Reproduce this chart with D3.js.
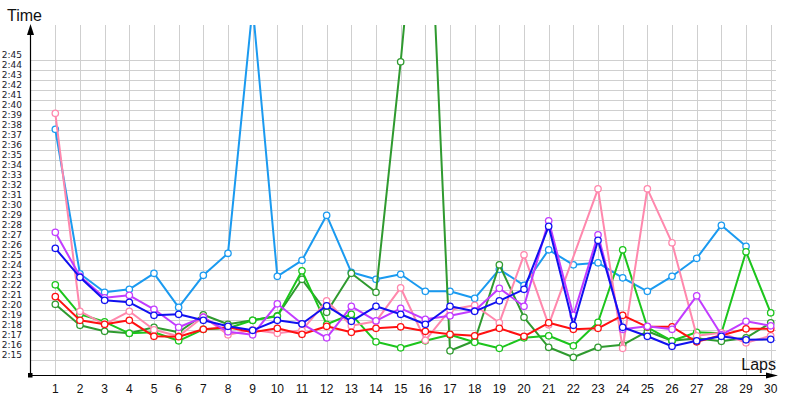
<!DOCTYPE html>
<html>
<head>
<meta charset="utf-8">
<script src="https://cdn.jsdelivr.net/npm/d3@7"></script>
<style>
  html, body { margin: 0; padding: 0; background: #fff; }
  svg { display: block; }
</style>
</head>
<body>
<svg id="chart" width="800" height="400"></svg>
<script>
// ---- data (lap times in seconds; 150 = 2:30) ----
const laps = d3.range(1, 31);
const yTickLabels = ["2:15","2:16","2:17","2:18","2:19","2:20","2:21","2:22","2:23","2:24","2:25","2:26","2:27","2:28","2:29","2:30","2:31","2:32","2:33","2:34","2:35","2:36","2:37","2:38","2:39","2:40","2:41","2:42","2:43","2:44","2:45"];

const lightBlue = [158.1,143.65,141.8,142.1,143.7,140.3,143.5,145.7,170.4,143.4,145.0,149.5,143.8,143.1,143.6,141.9,141.9,141.2,144.1,142.5,146.05,144.55,144.75,143.25,141.9,143.4,145.2,148.5,146.4,null];
const darkGreen = [140.6,138.5,137.9,137.7,138.3,137.8,139.55,138.6,139.0,139.45,143.1,139.8,143.7,141.8,164.85,191.0,135.95,136.95,144.55,139.3,136.3,135.3,136.3,136.55,137.9,136.95,137.2,136.9,137.25,138.75];
const brightGreen = [142.55,139.6,138.85,137.7,137.8,136.95,138.1,138.2,139.0,139.4,143.95,138.6,139.6,136.85,136.25,136.95,137.55,136.8,136.2,137.25,137.45,136.45,138.8,146.05,138.3,136.95,137.8,137.7,145.85,139.75];
const pink = [159.7,139.9,138.6,139.9,138.05,137.4,139.35,137.55,138.05,137.7,138.0,140.95,138.45,138.9,142.25,137.0,140.05,140.5,138.75,145.55,138.55,null,152.15,136.2,152.15,146.75,137.45,137.75,136.75,137.45];
const red = [141.37,139.0,138.6,139.0,137.4,137.36,138.1,138.3,137.8,138.2,137.6,138.4,137.8,138.2,138.35,137.9,137.6,137.45,138.2,137.4,138.75,138.1,138.2,139.5,138.35,138.35,136.85,137.5,138.15,138.15];
const purple = [147.8,143.4,141.25,141.5,140.1,138.3,139.3,137.85,137.55,140.65,138.65,137.25,140.4,138.95,140.2,139.1,139.45,139.95,142.2,140.4,148.95,139.5,147.55,138.1,138.4,138.1,141.45,137.55,138.9,138.45];
const blue = [146.2,143.3,141.0,140.8,139.5,139.6,139.0,138.4,138.0,139.0,138.65,140.45,138.9,140.4,139.6,138.6,140.4,139.9,140.95,142.1,148.4,138.5,147.0,138.3,137.4,136.4,136.95,137.4,137.05,137.1];

const seriesList = [
  { name: "lightBlue",   color: "#1a9af0", values: lightBlue },
  { name: "darkGreen",   color: "#2f9a2f", values: darkGreen },
  { name: "brightGreen", color: "#1cc51c", values: brightGreen },
  { name: "pink",        color: "#ff88ad", values: pink },
  { name: "red",         color: "#ff1010", values: red },
  { name: "purple",      color: "#c23cff", values: purple },
  { name: "blue",        color: "#1010f0", values: blue }
];

// ---- layout ----
const svg = d3.select("#chart");
const plotTop = 25, plotBottom = 375, axisX = 30, axisRight = 778, gridRight = 776;

const x = d3.scaleLinear().domain([1, 30]).range([55.3, 770.7]);
const y = d3.scaleLinear().domain([135, 165]).range([360.3, 60.3]);

const fontMain = "'Liberation Sans', Arial, sans-serif";

// clip
svg.append("defs").append("clipPath").attr("id", "plotClip")
  .append("rect").attr("x", axisX).attr("y", plotTop).attr("width", 800 - axisX).attr("height", plotBottom - plotTop);

// gridlines
const grid = svg.append("g").attr("stroke", "#cfcfcf").attr("stroke-width", 1).attr("shape-rendering", "crispEdges");
grid.selectAll("line.h").data(d3.range(135, 166)).join("line")
  .attr("class", "h")
  .attr("x1", axisX).attr("x2", gridRight)
  .attr("y1", d => Math.round(y(d)) + 0.5).attr("y2", d => Math.round(y(d)) + 0.5);
grid.selectAll("line.v").data(laps).join("line")
  .attr("class", "v")
  .attr("y1", plotTop).attr("y2", plotBottom)
  .attr("x1", d => Math.round(x(d)) + 0.5).attr("x2", d => Math.round(x(d)) + 0.5);

// y tick labels
svg.append("g").selectAll("text").data(yTickLabels).join("text")
  .attr("x", 22).attr("y", (d, i) => y(135 + i) - 2)
  .attr("text-anchor", "end")
  .attr("font-family", "'DejaVu Sans', Verdana, sans-serif")
  .attr("font-size", 9)
  .attr("fill", "#1a1a2a")
  .text(d => d);

// x tick labels
svg.append("g").selectAll("text").data(laps).join("text")
  .attr("x", d => x(d)).attr("y", 393)
  .attr("text-anchor", "middle")
  .attr("font-family", fontMain)
  .attr("font-size", 12)
  .attr("fill", "#111")
  .text(d => d);

// series
const lineGen = d3.line().x(d => x(d.lap)).y(d => y(d.v));
const plot = svg.append("g").attr("clip-path", "url(#plotClip)");
seriesList.forEach(s => {
  const pts = s.values.map((v, i) => ({ lap: laps[i], v })).filter(d => d.v !== null);
  const g = plot.append("g");
  g.append("path").datum(pts)
    .attr("fill", "none").attr("stroke", s.color).attr("stroke-width", 2)
    .attr("stroke-linejoin", "round")
    .attr("d", lineGen);
  g.selectAll("circle").data(pts).join("circle")
    .attr("cx", d => x(d.lap)).attr("cy", d => y(d.v)).attr("r", 3.2)
    .attr("fill", "#fff").attr("stroke", s.color).attr("stroke-width", 1.3);
});

// axes
const ax = svg.append("g");
ax.append("line").attr("x1", axisX + 0.5).attr("x2", axisX + 0.5).attr("y1", plotTop + 6).attr("y2", plotBottom)
  .attr("stroke", "#000").attr("stroke-width", 1.2);
ax.append("line").attr("x1", axisX).attr("x2", axisRight - 6).attr("y1", plotBottom + 0.5).attr("y2", plotBottom + 0.5)
  .attr("stroke", "#000").attr("stroke-width", 1.2);
ax.append("path").attr("d", `M${axisX + 0.5},${plotTop - 1} L${axisX - 3},${plotTop + 10} L${axisX + 4},${plotTop + 10} Z`).attr("fill", "#000");
ax.append("path").attr("d", `M${axisRight},${plotBottom + 0.5} L${axisRight - 12},${plotBottom - 2.5} L${axisRight - 12},${plotBottom + 3.5} Z`).attr("fill", "#000");
ax.append("rect").attr("x", axisX - 2).attr("y", plotBottom - 2).attr("width", 4.5).attr("height", 4.5).attr("fill", "#000");

// axis titles
svg.append("text").attr("x", 7).attr("y", 21).attr("font-family", fontMain).attr("font-size", 16).attr("fill", "#111").text("Time");
svg.append("text").attr("x", 776).attr("y", 370).attr("text-anchor", "end").attr("font-family", fontMain).attr("font-size", 16).attr("fill", "#111").text("Laps");
</script>
</body>
</html>
